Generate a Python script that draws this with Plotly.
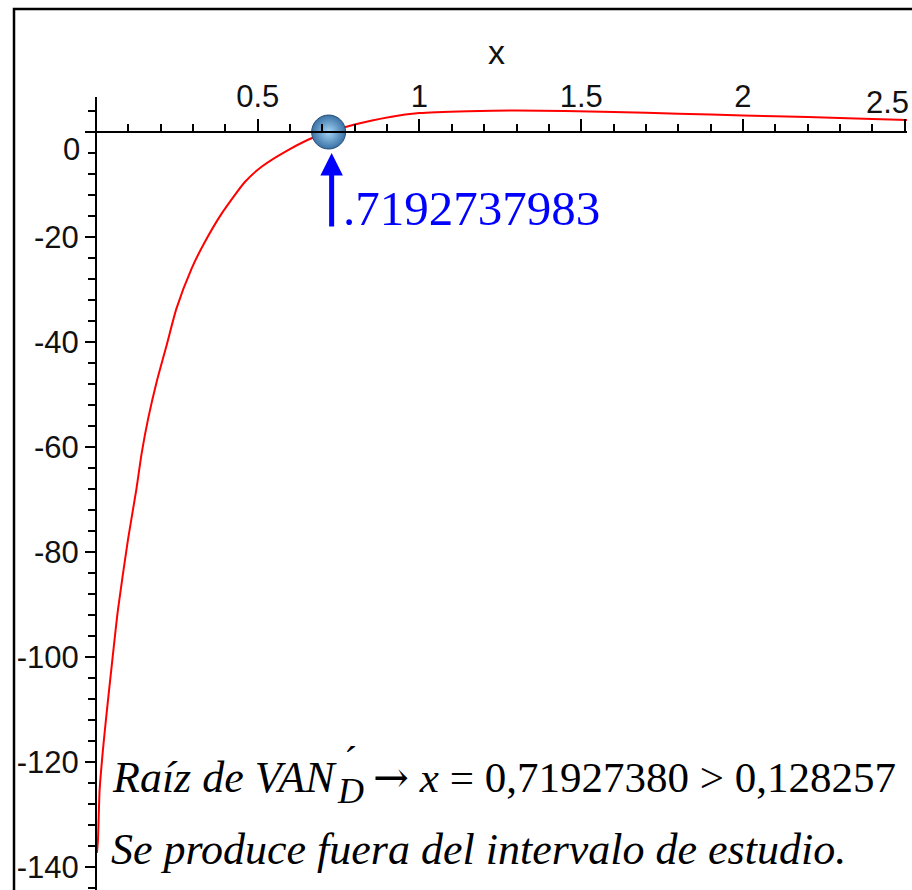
import plotly.graph_objects as go

# ---- data ----
x_curve = [0.0031, 0.0062, 0.0114, 0.0216, 0.0318, 0.0473, 0.068, 0.0989, 0.1246,
           0.1413, 0.1617, 0.1876, 0.2185, 0.249, 0.296, 0.337, 0.389, 0.461,
           0.512, 0.594, 0.677, 0.7193, 0.794, 0.909, 1.0, 1.15, 1.3, 1.45,
           1.6, 1.8, 2.0, 2.2, 2.4, 2.507]
y_curve = [-137.3, -134.9, -125.3, -117.7, -111.4, -102.5, -91.0, -77.7, -68.2,
           -61.2, -54.5, -47.6, -40.6, -33.6, -25.96, -20.9, -15.49, -9.47,
           -6.61, -3.43, -0.9, 0.0, 1.33, 2.86, 3.6, 3.95, 4.1, 4.0,
           3.8, 3.5, 3.15, 2.85, 2.5, 2.3]
root_x = 0.7192737983
root_y = 0.0
root_label = ".7192737983"
x_tickvals = [0.5, 1, 1.5, 2, 2.5]
x_ticktext = ["0.5", "1", "1.5", "2", ""]
last_x_label = "2.5"
y_tickvals = [0, -20, -40, -60, -80, -100, -120, -140]
y_ticktext = ["", "-20", "-40", "-60", "-80", "-100", "-120", "-140"]
line1_a = "<i>Raíz de VAN</i>"
line1_sub = "<i>D</i>"
line1_acc = "´"
line1_b = "<span style='font-family:DejaVu Serif'>→</span> <i>x</i> = 0,71927380 &gt; 0,128257"
line2 = "<i>Se produce fuera del intervalo de estudio.</i>"

W, H = 912, 890
def fx(p):
    return p / W
def fy(p):
    return 1 - p / H

TICKFONT = dict(family="Liberation Sans, Arial, sans-serif",
                size=31, color="#111111")
SERIF = "Liberation Serif, Times New Roman, serif"

fig = go.Figure()
fig.add_trace(go.Scatter(x=x_curve, y=y_curve, mode="lines",
                         line=dict(color="#ff0000", width=2, shape="spline", smoothing=0.6),
                         hoverinfo="skip", showlegend=False))
fig.add_trace(go.Scatter(x=[root_x], y=[root_y], mode="markers",
                         marker=dict(size=34, color="#3a72a6",
                                     gradient=dict(type="radial", color="#a6d6f6"),
                                     line=dict(color="#284e74", width=1)),
                         hoverinfo="skip", showlegend=False))

fig.update_layout(
    width=W, height=H,
    margin=dict(l=0, r=0, t=0, b=0, pad=0),
    paper_bgcolor="white", plot_bgcolor="white",
    showlegend=False,
    xaxis=dict(domain=[94 / W, 907 / W], range=[-0.006, 2.507],
               anchor="free", position=fy(132), side="top",
               showline=True, linecolor="black", linewidth=2,
               ticks="outside", ticklen=12, tickwidth=2, tickcolor="black",
               tickmode="array", tickvals=x_tickvals, ticktext=x_ticktext,
               tickfont=TICKFONT, showgrid=False, zeroline=False,
               minor=dict(dtick=0.1, tick0=0, ticks="outside", ticklen=7,
                          tickwidth=2, tickcolor="black", showgrid=False)),
    yaxis=dict(domain=[0, fy(97)], range=[-144.38, 6.67],
               anchor="free", position=fx(96), side="left",
               showline=True, linecolor="black", linewidth=2,
               ticks="outside", ticklen=10, tickwidth=2, tickcolor="black",
               tickmode="array", tickvals=y_tickvals, ticktext=y_ticktext,
               tickfont=TICKFONT, showgrid=False, zeroline=False,
               minor=dict(dtick=4, tick0=0, ticks="outside", ticklen=7,
                          tickwidth=2, tickcolor="black", showgrid=False)),
)

# frame
fig.add_shape(type="rect", xref="paper", yref="paper",
              x0=fx(14), x1=fx(916), y0=fy(894), y1=fy(9),
              line=dict(color="black", width=2.5), fillcolor="rgba(0,0,0,0)")

ann = []
# "0" tick label (drawn below the axis as in the original)
ann.append(dict(xref="paper", yref="paper", x=fx(82), y=fy(150), xanchor="right",
                yanchor="middle", text="0", showarrow=False, font=TICKFONT))
# last x tick label, kept inside the page
ann.append(dict(xref="paper", yref="paper", x=fx(911), y=fy(102), xanchor="right",
                yanchor="middle", text=last_x_label, showarrow=False, font=TICKFONT))
# axis title
ann.append(dict(xref="paper", yref="paper", x=fx(497), y=fy(52), xanchor="center",
                yanchor="middle", text="x", showarrow=False,
                font=dict(family=TICKFONT["family"], size=34, color="#111111")))
# blue arrow
ann.append(dict(x=root_x, y=root_y, xref="x", yref="y", ax=0, ay=96, text="",
                showarrow=True, arrowhead=2, arrowsize=0.9, arrowwidth=5,
                arrowcolor="#0000ff", standoff=21, xshift=3))
ann.append(dict(xref="paper", yref="paper", x=fx(341), y=fy(208), xanchor="left",
                yanchor="middle", text=root_label, showarrow=False,
                font=dict(family=SERIF, size=49, color="#0000ff")))
# bottom text
ann.append(dict(xref="paper", yref="paper", x=fx(110), y=fy(777), xanchor="left",
                yanchor="middle", text=line1_a, showarrow=False,
                font=dict(family=SERIF, size=44, color="black")))
ann.append(dict(xref="paper", yref="paper", x=fx(335), y=fy(791), xanchor="left",
                yanchor="middle", text=line1_sub, showarrow=False,
                font=dict(family=SERIF, size=36, color="black")))
ann.append(dict(xref="paper", yref="paper", x=fx(342), y=fy(760), xanchor="left",
                yanchor="middle", text=line1_acc, showarrow=False,
                font=dict(family=SERIF, size=40, color="black")))
ann.append(dict(xref="paper", yref="paper", x=fx(371), y=fy(777), xanchor="left",
                yanchor="middle", text=line1_b, showarrow=False,
                font=dict(family=SERIF, size=43, color="black")))
ann.append(dict(xref="paper", yref="paper", x=fx(109), y=fy(849), xanchor="left",
                yanchor="middle", text=line2, showarrow=False,
                font=dict(family=SERIF, size=44, color="black")))
fig.update_layout(annotations=ann)

fig.write_html("out.html")
